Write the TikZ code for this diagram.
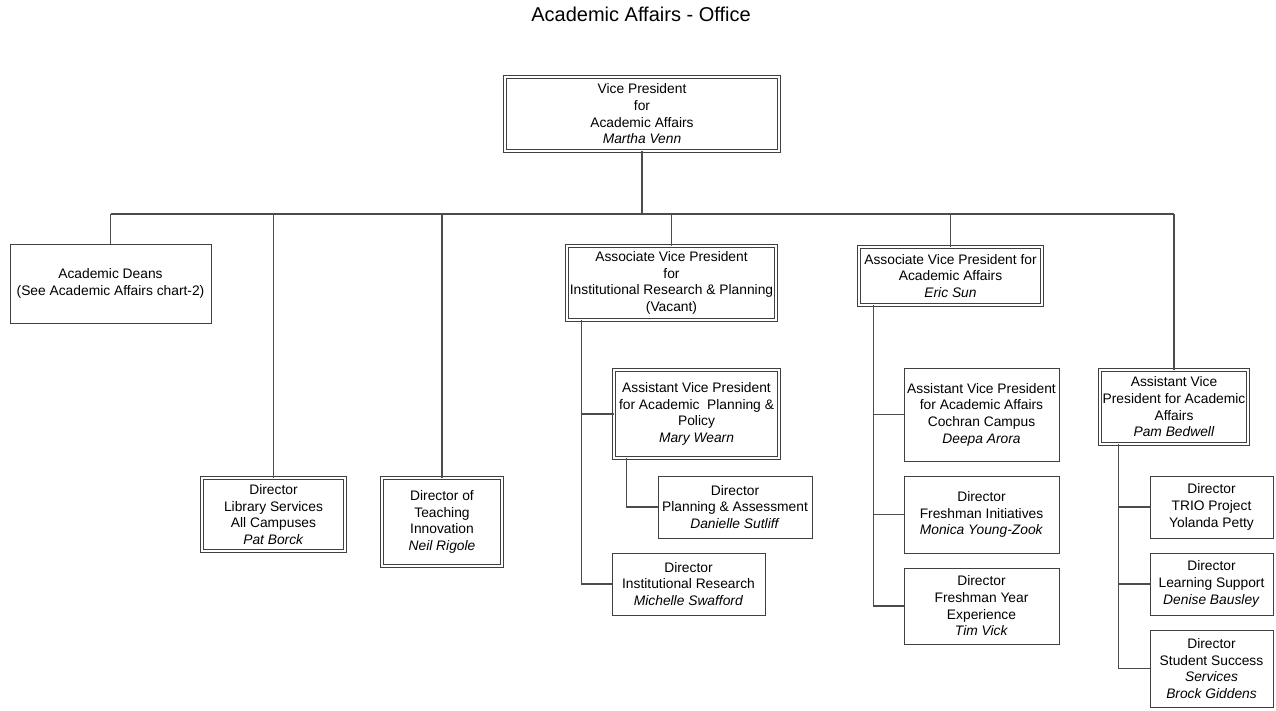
\documentclass[tikz,border=0pt]{standalone}
\usepackage{fontspec}
\setmainfont{Liberation Sans}
\usepackage{tikz}

\begin{document}
\begin{tikzpicture}[x=1pt,y=-1pt,line width=1.1pt,
  unit/.style={draw=black!75,line width=1pt,inner sep=0pt,align=center,
    font=\fontsize{13.8}{16.7}\selectfont},
  headunit/.style={unit,double=white,double distance=1.8pt,line width=.9pt},
  link/.style={draw=black!70,line width=1.3pt}]
\path[use as bounding box] (0,0) rectangle (1276,710);
\node[anchor=base,inner sep=0pt,font=\fontsize{20}{23}\selectfont] (title) at (641,21.5) {Academic Affairs - Office};
\node[headunit,minimum width=274,minimum height=74] (vp) at (642,114) {Vice President\\ for\\ Academic Affairs\\ \textit{Martha Venn}};
\node[unit,minimum width=201,minimum height=79] (deans) at (110.5,283.5) {Academic Deans\\ (See Academic Affairs chart-2)};
\node[headunit,minimum width=143,minimum height=73] (library) at (273.5,514.5) {Director\\ Library Services\\ All Campuses\\ \textit{Pat Borck}};
\node[headunit,minimum width=120,minimum height=88] (teaching) at (442,522) {Director of\\ Teaching\\ Innovation\\ \textit{Neil Rigole}};
\node[headunit,minimum width=209,minimum height=74] (irp) at (671.5,283) {Associate Vice President\\ for\\ Institutional Research \& Planning\\ (Vacant)};
\node[headunit,minimum width=165,minimum height=88] (planavp) at (696.5,414) {Assistant Vice President\\ for Academic\ \ Planning \&\\ Policy\\ \textit{Mary Wearn}};
\node[unit,minimum width=154,minimum height=62] (padir) at (735,507) {Director\\ Planning \& Assessment\\ \textit{Danielle Sutliff}};
\node[unit,minimum width=153,minimum height=62] (irdir) at (688.5,584) {Director\\ Institutional Research\\ \textit{Michelle Swafford}};
\node[headunit,minimum width=183,minimum height=58] (eric) at (950.5,276) {Associate Vice President for\\ Academic Affairs\\ \textit{Eric Sun}};
\node[unit,minimum width=155,minimum height=93] (cochran) at (981.5,414.5) {Assistant Vice President\\ for Academic Affairs\\ Cochran Campus\\ \textit{Deepa Arora}};
\node[unit,minimum width=155,minimum height=77] (fresh) at (981.5,514.5) {Director\\ Freshman Initiatives\\ \textit{Monica Young-Zook}};
\node[unit,minimum width=155,minimum height=76] (fye) at (981.5,606) {Director\\ Freshman Year\\ Experience\\ \textit{Tim Vick}};
\node[headunit,minimum width=148,minimum height=74] (pam) at (1174,407) {Assistant Vice\\ President for Academic\\ Affairs\\ \textit{Pam Bedwell}};
\node[unit,minimum width=123,minimum height=62] (trio) at (1211.5,507) {Director\\ TRIO Project\\ Yolanda Petty};
\node[unit,minimum width=123,minimum height=62] (learn) at (1211.5,584) {Director\\ Learning Support\\ \textit{Denise Bausley}};
\node[unit,minimum width=123,minimum height=77] (success) at (1211.5,668.5) {Director\\ Student Success\\ \textit{Services}\\ \textit{Brock Giddens}};
\coordinate (busL) at (111,214);
\coordinate (busR) at (1174,214);
\draw[link] (busL) -- (busR);
\draw[link] (vp.south) -- (vp.south |- busL);
\draw[link] (deans.north) -- (deans.north |- busL);
\draw[link] (library.north) -- (library.north |- busL);
\draw[link] (teaching.north) -- (teaching.north |- busL);
\draw[link] (irp.north) -- (irp.north |- busL);
\draw[link] (eric.north) -- (eric.north |- busL);
\draw[link] (pam.north) -- (pam.north |- busL);
\coordinate (irpline) at ([xshift=15]irp.south west);
\draw[link] (irpline) |- (irdir.west);
\draw[link] (irpline |- planavp.west) -- (planavp.west);
\coordinate (planline) at ([xshift=13]planavp.south west);
\draw[link] (planline) |- (padir.west);
\coordinate (ericline) at ([xshift=15]eric.south west);
\draw[link] (ericline) |- (fye.west);
\draw[link] (ericline |- cochran.west) -- (cochran.west);
\draw[link] (ericline |- fresh.west) -- (fresh.west);
\coordinate (pamline) at ([xshift=19]pam.south west);
\draw[link] (pamline) |- (success.west);
\draw[link] (pamline |- trio.west) -- (trio.west);
\draw[link] (pamline |- learn.west) -- (learn.west);
\end{tikzpicture}
\end{document}
